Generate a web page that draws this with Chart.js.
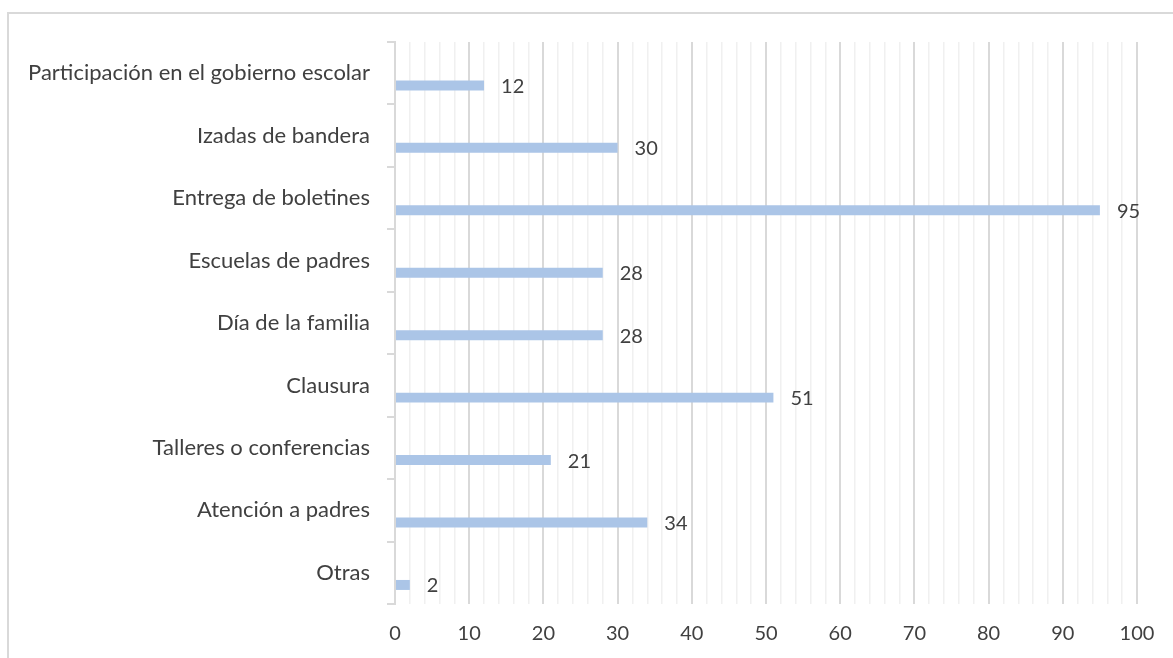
<!DOCTYPE html>
<html>
<head>
<meta charset="utf-8">
<script src="https://cdn.jsdelivr.net/npm/chart.js@4"></script>
<style>
    body { margin: 0; background: #fff; }
    #marco { position: absolute; left: 7px; top: 12px; width: 1300px; height: 800px; border: 2px solid #d9d9d9; }
    #caja { position: absolute; left: 0; top: 0; width: 1173px; height: 658px; }
</style>
</head>
<body>
<div id="marco"></div>
<div id="caja"><canvas id="grafico" width="1173" height="658"></canvas></div>
<script>
// Datos del gráfico
const categorias = [
    "Participación en el gobierno escolar",
    "Izadas de bandera",
    "Entrega de boletines",
    "Escuelas de padres",
    "Día de la familia",
    "Clausura",
    "Talleres o conferencias",
    "Atención a padres",
    "Otras"
];
const valores = [12, 30, 95, 28, 28, 51, 21, 34, 2];
const vacio = [null, null, null, null, null, null, null, null, null];
const ticksX = [0, 10, 20, 30, 40, 50, 60, 70, 80, 90, 100];

const fuenteCat = { family: "Lato", size: 22 };
const fuenteNum = { family: "Lato", size: 20 };
const colorTexto = "#404040";

// Plugin pra escrever os valores ao lado das barras
const etiquetas = {
    id: "etiquetas",
    afterDatasetsDraw(chart) {
        let ctx = chart.ctx;
        let meta = chart.getDatasetMeta(1);
        ctx.save();
        ctx.font = fuenteNum.size + "px " + fuenteNum.family;
        ctx.fillStyle = colorTexto;
        ctx.textAlign = "left";
        ctx.textBaseline = "middle";
        meta.data.forEach(function (barra, i) {
            ctx.fillText(String(valores[i]), barra.x + 17, barra.y + 1);
        });
        ctx.restore();
    }
};

let ctx = document.getElementById("grafico").getContext("2d");
let chart = new Chart(ctx, {
    type: "bar",
    data: {
        labels: categorias,
        datasets: [
            { data: vacio, backgroundColor: "#abc5e7" },
            { data: valores, backgroundColor: "#abc5e7" }
        ]
    },
    options: {
        indexAxis: "y",
        responsive: false,
        animation: false,
        categoryPercentage: 0.78,
        barPercentage: 0.41,
        layout: { padding: { top: 42, right: 36, bottom: 0, left: 0 } },
        plugins: {
            legend: { display: false },
            tooltip: { enabled: false }
        },
        scales: {
            x: {
                min: 0,
                max: 100,
                afterFit: function (s) { s.height = 54; },
                afterBuildTicks: function (s) {
                    let t = [];
                    for (let v = 0; v <= 100; v += 2) t.push({ value: v });
                    s.ticks = t;
                },
                ticks: {
                    autoSkip: false,
                    maxRotation: 0,
                    padding: 18,
                    color: colorTexto,
                    font: fuenteNum,
                    callback: function (v) { return ticksX.includes(v) ? String(v) : ""; }
                },
                grid: {
                    drawTicks: false,
                    color: function (c) { return c.tick && c.tick.value % 10 === 0 ? "#d9d9d9" : "#f0f0f0"; },
                    lineWidth: function (c) { return c.tick && c.tick.value % 10 === 0 ? 2 : 1.5; }
                },
                border: { display: false }
            },
            y: {
                afterFit: function (s) { s.width = 395; },
                ticks: {
                    color: colorTexto,
                    font: fuenteCat,
                    padding: 17
                },
                grid: {
                    offset: true,
                    drawOnChartArea: false,
                    drawTicks: true,
                    tickLength: 8,
                    color: "#d9d9d9",
                    lineWidth: 2
                },
                border: { color: "#d9d9d9", width: 2 }
            }
        }
    },
    plugins: [etiquetas]
});
</script>
</body>
</html>
